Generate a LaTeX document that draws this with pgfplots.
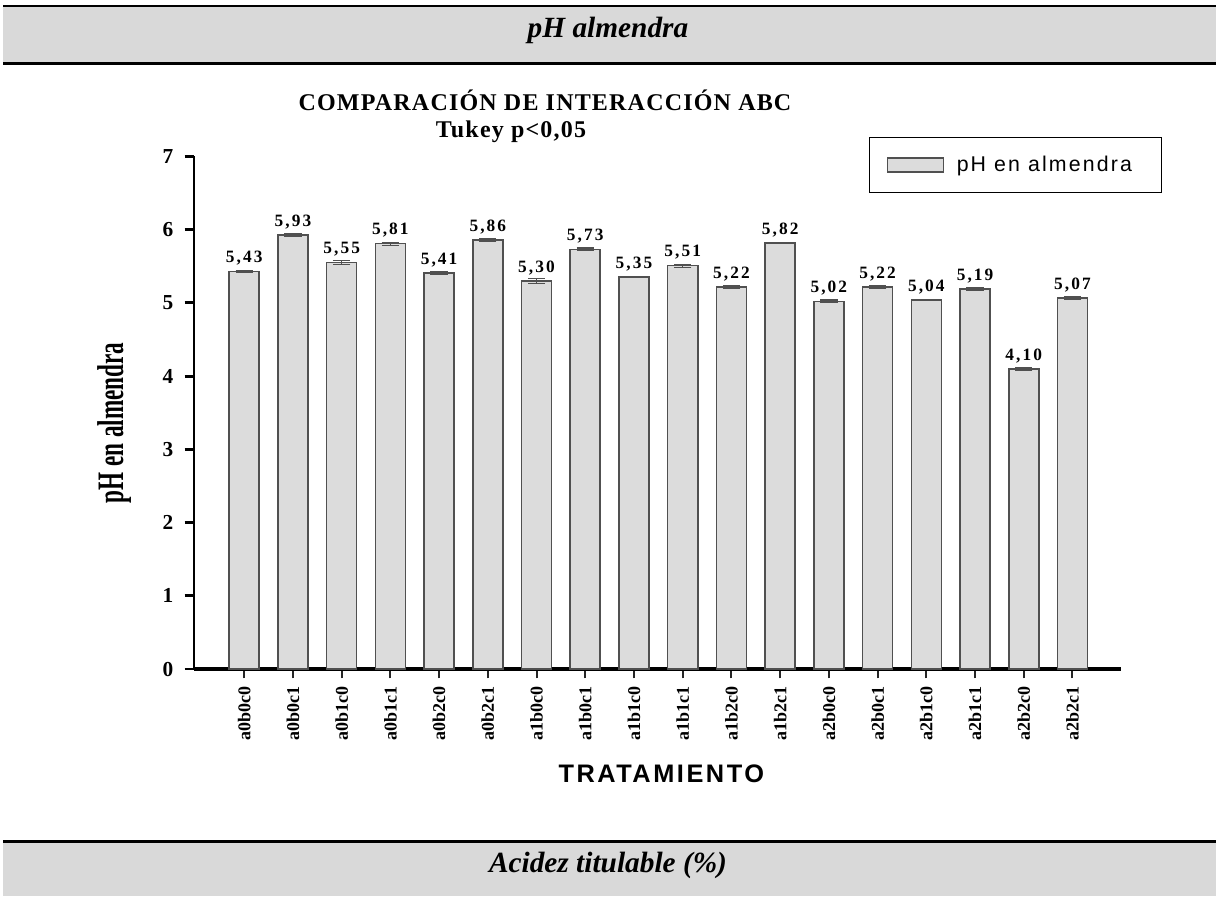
\documentclass[border=0pt]{standalone}
\usepackage{pgfplots}
\pgfplotsset{compat=1.18}
\usepackage{pgfplotstable}
\usepackage{fontspec}
\setmainfont{Liberation Serif}
\newfontfamily\sansf{Liberation Sans}
\newfontfamily\titlef[LetterSpace=5]{Liberation Serif}
\newfontfamily\valf[LetterSpace=12]{Liberation Serif}
\newfontfamily\ylabf[FakeStretch=0.62]{Liberation Serif}
\newfontfamily\xlabf[LetterSpace=10]{Liberation Sans}
\newfontfamily\legf[LetterSpace=10]{Liberation Sans}
\definecolor{band}{RGB}{217,217,217}
\definecolor{barfill}{RGB}{220,220,220}
\definecolor{baredge}{RGB}{80,80,80}

% media y error de pH por tratamiento
\pgfplotstableread{
x  ph    err
0  5.43  0.010
1  5.93  0.020
2  5.55  0.025
3  5.81  0.020
4  5.41  0.025
5  5.86  0.020
6  5.30  0.030
7  5.73  0.020
8  5.35  0.005
9  5.51  0.020
10 5.22  0.020
11 5.82  0.005
12 5.02  0.020
13 5.22  0.020
14 5.04  0.005
15 5.19  0.020
16 4.10  0.020
17 5.07  0.020
}\phdata

\begin{document}
\begin{tikzpicture}
\begin{scope}[x=0.75pt,y=-0.75pt]
\path[use as bounding box] (0,0) rectangle (1216,896);
% bandas de cabecera y pie
\fill[black] (3,4.5) rectangle (1216,7);
\fill[band] (3,7) rectangle (1216,62);
\fill[black] (3,62) rectangle (1216,64.5);
\fill[black] (3,840) rectangle (1216,843);
\fill[band] (3,843) rectangle (1216,896);
\node[anchor=base, inner sep=0pt, font=\fontsize{22}{26}\selectfont\bfseries\itshape] at (608,37) {pH almendra};
\node[anchor=base, inner sep=0pt, font=\fontsize{22}{26}\selectfont\bfseries\itshape] at (608,872) {Acidez titulable (\%)};
% titulo
\node[anchor=base, inner sep=0pt, font=\titlef\fontsize{18}{20}\selectfont\bfseries] at (545,110) {COMPARACIÓN DE INTERACCIÓN ABC};
\node[anchor=base, inner sep=0pt, font=\titlef\fontsize{18}{20}\selectfont\bfseries] at (511,137) {Tukey p<0,05};
\end{scope}

\begin{axis}[
  at={(145.5pt,-501.75pt)}, anchor=south west,
  scale only axis, width=695.4pt, height=384.4pt,
  xmin=-1.03, xmax=18, ymin=0, ymax=7,
  axis lines=left,
  axis line style={-},
  x axis line style={line width=2.4pt},
  y axis line style={line width=2.1pt},
  tick align=outside,
  major tick length=7pt,
  xtick={0,...,17},
  xticklabels={a0b0c0,a0b0c1,a0b1c0,a0b1c1,a0b2c0,a0b2c1,a1b0c0,a1b0c1,a1b1c0,a1b1c1,a1b2c0,a1b2c1,a2b0c0,a2b0c1,a2b1c0,a2b1c1,a2b2c0,a2b2c1},
  ytick={0,...,7},
  x tick style={line width=1.5pt, black!85},
  y tick style={line width=2.2pt, black},
  /pgf/number format/assume math mode=true,
  yticklabel style={font=\fontsize{16}{18}\selectfont\bfseries, xshift=-5pt},
  xticklabel style={yshift=-6pt, rotate=90, anchor=east, inner sep=0pt, font=\fontsize{13.5}{15}\selectfont\bfseries},
  ylabel={pH en almendra},
  every axis y label/.style={at={(axis description cs:-0.086,0.48)}, rotate=90, anchor=center, font=\ylabf\fontsize{28}{30}\selectfont\bfseries},
  xlabel={TRATAMIENTO},
  every axis x label/.style={at={(axis description cs:0.504,-0.2224)}, anchor=base, font=\xlabf\fontsize{19}{21}\selectfont\bfseries},
  legend style={at={(axis description cs:1.044,1.038)}, anchor=north east, draw=black, line width=1pt,
    font=\legf\fontsize{16}{18}\selectfont, inner xsep=13pt, inner ysep=12pt},
  legend image code/.code={\draw[#1] (0pt,-5.25pt) rectangle (42pt,5.25pt); \path[draw=none,fill=none] (0pt,0pt) -- (50pt,0pt);},
  nodes near coords={\pgfmathprintnumber[fixed,fixed zerofill,precision=2,use comma]{\pgfplotspointmeta}},
  every node near coord/.append style={font=\valf\fontsize{13}{15}\selectfont\bfseries, anchor=base, yshift=6.5pt, black},
  clip=false,
]
\addplot[ybar, bar width=0.616, fill=barfill, draw=baredge, line width=1.2pt,
  error bars/.cd, y dir=both, y explicit, error mark=|,
  error bar style={line width=0.8pt, baredge},
  error mark options={line width=0.8pt, mark size=6.5pt, baredge}]
  table[x=x, y=ph, y error=err] {\phdata};
\addlegendentry{pH en almendra\hspace*{7pt}}
\end{axis}
\end{tikzpicture}
\end{document}
